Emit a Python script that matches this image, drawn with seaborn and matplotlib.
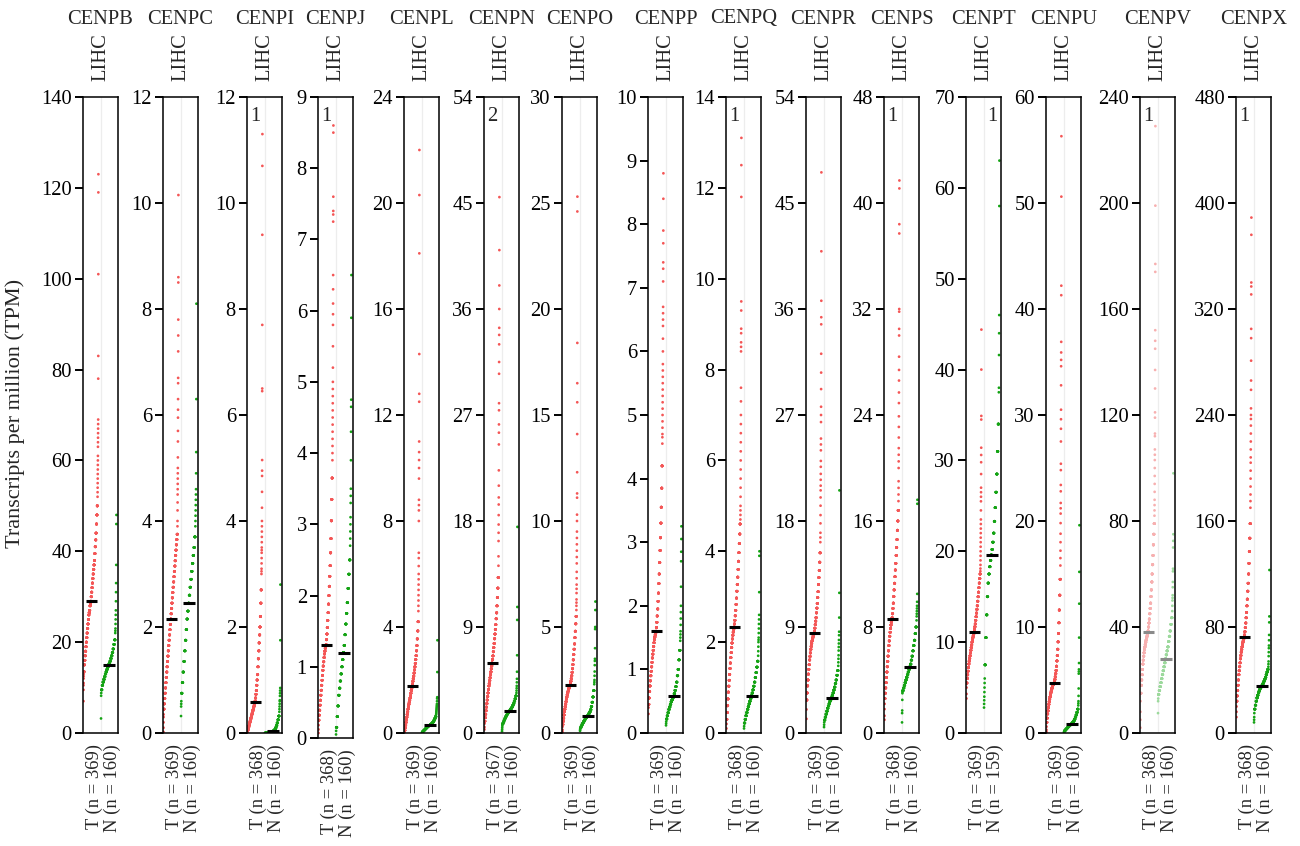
import numpy as np
import pandas as pd
import matplotlib
matplotlib.use("Agg")
import matplotlib.pyplot as plt
import seaborn as sns

# ---------------- data (TPM) ----------------
genes = ["CENPB", "CENPC", "CENPI", "CENPJ", "CENPL", "CENPN", "CENPO", "CENPP",
         "CENPQ", "CENPR", "CENPS", "CENPT", "CENPU", "CENPV", "CENPX"]
y_max = [140, 12, 12, 9, 24, 54, 30, 10, 14, 54, 48, 70, 60, 240, 480]
y_step = [20, 2, 2, 1, 4, 9, 5, 1, 2, 9, 8, 10, 10, 40, 80]
n_tumor = [369, 369, 368, 368, 369, 367, 369, 369, 368, 369, 368, 369, 369, 368, 368]
n_normal = [160, 160, 160, 160, 160, 160, 160, 160, 160, 160, 160, 159, 160, 160, 160]
out_tumor = ["", "", "1", "1", "", "2", "", "", "1", "", "1", "", "", "1", "1"]
out_normal = ["", "", "", "", "", "", "", "", "", "", "", "1", "", "", ""]
faded = ["CENPV"]

# core values: each stands for a run of sorted samples (10 for T, 8 for N);
# single values: individually visible dots
T_BLOCK = 10
N_BLOCK = 8

cenpb_t_core = [13.5, 15, 16, 17, 18, 19, 20, 21, 22, 23, 24, 25, 26, 26.5, 27, 28, 28.5, 29, 30, 31, 32, 33, 34, 35, 36, 37, 38, 39.5, 41, 42.5, 44, 46, 48, 50]
cenpb_t_single = [7, 9.5, 10.5, 11, 12, 12.5, 13, 52, 53, 54, 55, 56, 57, 58, 59, 60, 61, 63, 64, 65, 66, 67, 68, 69, 78, 83, 101, 119, 123]
cenpb_n_core = [9.5, 10.5, 11.2, 11.8, 12.4, 13, 13.5, 14, 14.5, 15, 15.3, 15.8, 16.4, 17, 17.7, 18.5, 19.5, 20.5]
cenpb_n_single = [3.2, 8.2, 8.8, 22, 22.5, 23, 24, 25, 26, 27, 29, 31, 33, 37, 46, 48]

cenpc_t_core = [0.45, 0.55, 0.65, 0.75, 0.85, 0.95, 1.05, 1.15, 1.25, 1.35, 1.45, 1.55, 1.65, 1.75, 1.85, 1.95, 2.05, 2.15, 2.25, 2.35, 2.45, 2.55, 2.65, 2.75, 2.85, 2.95, 3.05, 3.15, 3.25, 3.35, 3.45, 3.55, 3.65, 3.75]
cenpc_t_single = [0.02, 0.1, 0.2, 0.3, 0.35, 3.9, 4.0, 4.2, 4.35, 4.5, 4.6, 4.7, 4.8, 4.9, 5.0, 5.2, 5.5, 5.7, 5.95, 6.1, 6.3, 6.6, 6.7, 7.2, 7.5, 7.8, 8.5, 8.6, 10.15]
cenpc_n_core = [0.75, 0.95, 1.15, 1.35, 1.55, 1.75, 1.95, 2.15, 2.3, 2.45, 2.6, 2.75, 2.9, 3.05, 3.2, 3.35, 3.5, 3.7]
cenpc_n_single = [0.32, 0.5, 0.55, 0.6, 3.9, 4.0, 4.1, 4.2, 4.3, 4.4, 4.5, 4.6, 4.9, 5.3, 6.3, 8.1]

cenpi_t_core = [0.05, 0.08, 0.11, 0.14, 0.17, 0.2, 0.23, 0.26, 0.29, 0.32, 0.35, 0.38, 0.41, 0.44, 0.47, 0.5, 0.53, 0.56, 0.6, 0.66, 0.73, 0.8, 0.9, 1.0, 1.1, 1.25, 1.4, 1.55, 1.7, 1.85, 2.0, 2.2, 2.45, 2.7]
cenpi_t_single = [0, 0.01, 0.02, 0.03, 3.0, 3.05, 3.1, 3.2, 3.3, 3.4, 3.45, 3.5, 3.6, 3.7, 3.8, 3.9, 4.0, 4.25, 4.55, 4.85, 4.95, 5.15, 6.45, 6.5, 7.7, 9.4, 10.7, 11.3]
cenpi_n_core = [0, 0, 0.005, 0.01, 0.01, 0.015, 0.02, 0.02, 0.025, 0.03, 0.04, 0.05, 0.07, 0.1, 0.14, 0.19, 0.25, 0.32]
cenpi_n_single = [0, 0, 0, 0, 0.4, 0.45, 0.5, 0.55, 0.6, 0.62, 0.7, 0.75, 0.8, 0.85, 1.75, 2.8]

cenpj_t_core = [0.25, 0.32, 0.39, 0.46, 0.53, 0.6, 0.67, 0.74, 0.81, 0.88, 0.95, 1.01, 1.07, 1.13, 1.18, 1.22, 1.26, 1.29, 1.31, 1.38, 1.46, 1.55, 1.65, 1.76, 1.88, 2.0, 2.13, 2.27, 2.42, 2.6, 2.8, 3.05, 3.35, 3.65]
cenpj_t_single = [0.07, 0.12, 0.18, 3.9, 4.0, 4.1, 4.2, 4.3, 4.4, 4.5, 4.6, 4.7, 4.8, 4.9, 5.0, 5.2, 5.5, 5.8, 5.95, 6.1, 6.3, 6.5, 7.25, 7.35, 7.4, 7.6, 8.5, 8.6]
cenpj_n_core = [0.15, 0.3, 0.45, 0.6, 0.7, 0.8, 0.9, 1.0, 1.1, 1.2, 1.3, 1.45, 1.6, 1.75, 1.9, 2.1, 2.3, 2.5]
cenpj_n_single = [0.05, 0.1, 2.7, 2.8, 2.9, 3.0, 3.1, 3.3, 3.4, 3.5, 3.9, 4.3, 4.65, 4.75, 5.9, 6.5]

cenpl_t_core = [0.1, 0.2, 0.3, 0.4, 0.5, 0.6, 0.7, 0.8, 0.9, 1.0, 1.08, 1.16, 1.24, 1.32, 1.4, 1.5, 1.6, 1.68, 1.76, 1.85, 1.95, 2.05, 2.15, 2.26, 2.38, 2.5, 2.63, 2.77, 2.92, 3.1, 3.3, 3.55, 3.85, 4.2]
cenpl_t_single = [0, 0.02, 0.05, 4.6, 4.8, 5.0, 5.2, 5.4, 5.6, 5.8, 6.0, 6.3, 6.6, 6.8, 8.0, 8.4, 8.6, 8.8, 9.6, 10.0, 10.3, 10.6, 11.0, 12.5, 12.8, 14.3, 18.1, 20.3, 22.0]
cenpl_n_core = [0.04, 0.07, 0.1, 0.13, 0.16, 0.19, 0.22, 0.25, 0.27, 0.29, 0.31, 0.33, 0.36, 0.39, 0.43, 0.48, 0.55, 0.62]
cenpl_n_single = [0, 0.02, 0.7, 0.75, 0.8, 0.85, 0.9, 0.95, 1.0, 1.05, 1.1, 1.2, 1.3, 1.35, 2.3, 3.5]

cenpn_t_core = [1.0, 1.3, 1.6, 1.9, 2.2, 2.5, 2.8, 3.1, 3.4, 3.7, 4.0, 4.2, 4.45, 4.7, 4.95, 5.2, 5.45, 5.7, 5.95, 6.25, 6.55, 6.9, 7.25, 7.6, 8.0, 8.4, 8.8, 9.2, 9.7, 10.2, 10.8, 11.5, 12.3, 13.2]
cenpn_t_single = [0.3, 0.5, 0.8, 14.2, 15, 16.3, 17, 17.7, 18.5, 19.4, 20, 21, 22.3, 24.5, 25.5, 26.2, 27.4, 28, 30.5, 31.5, 33, 33.8, 34.4, 36, 38, 41, 45.5]
cenpn_n_core = [0.8, 0.95, 1.1, 1.25, 1.4, 1.52, 1.63, 1.73, 1.82, 1.9, 2.0, 2.1, 2.2, 2.35, 2.5, 2.7, 2.9, 3.15]
cenpn_n_single = [0.15, 0.3, 0.45, 0.6, 0.7, 3.4, 3.6, 3.8, 4.0, 4.3, 4.6, 5.2, 6.6, 9.6, 10.7, 17.5]

cenpo_t_core = [0.4, 0.55, 0.7, 0.85, 1.0, 1.12, 1.24, 1.36, 1.48, 1.6, 1.7, 1.8, 1.88, 1.96, 2.04, 2.1, 2.16, 2.2, 2.26, 2.34, 2.44, 2.56, 2.7, 2.86, 3.03, 3.23, 3.45, 3.7, 3.95, 4.2, 4.5, 4.8, 5.15, 5.5]
cenpo_t_single = [0.05, 0.15, 0.3, 5.8, 6.0, 6.15, 6.3, 6.6, 6.8, 7.0, 7.3, 7.6, 8.0, 8.3, 8.6, 8.9, 9.2, 9.5, 10.0, 10.3, 11.1, 11.3, 12.3, 14.1, 15.6, 16.5, 18.4, 24.6, 25.3]
cenpo_n_core = [0.25, 0.32, 0.4, 0.47, 0.54, 0.6, 0.66, 0.71, 0.76, 0.81, 0.86, 0.93, 1.0, 1.1, 1.25, 1.45, 1.7, 2.0]
cenpo_n_single = [0.1, 0.15, 0.2, 2.3, 2.4, 2.5, 2.7, 2.9, 3.2, 3.4, 3.5, 4.0, 4.9, 5.0, 5.8, 6.2]

cenpp_t_core = [0.45, 0.55, 0.65, 0.74, 0.82, 0.9, 0.97, 1.04, 1.11, 1.18, 1.24, 1.3, 1.36, 1.42, 1.47, 1.51, 1.54, 1.57, 1.6, 1.66, 1.74, 1.84, 1.95, 2.07, 2.2, 2.35, 2.5, 2.68, 2.87, 3.07, 3.3, 3.55, 3.85, 4.2]
cenpp_t_single = [0.3, 0.4, 4.55, 4.65, 4.7, 4.8, 4.9, 5.0, 5.1, 5.2, 5.3, 5.4, 5.5, 5.6, 5.7, 5.8, 6.0, 6.2, 6.4, 6.5, 6.6, 6.7, 7.1, 7.3, 7.4, 7.7, 7.9, 8.4, 8.8]
cenpp_n_core = [0.22, 0.27, 0.32, 0.37, 0.41, 0.45, 0.49, 0.52, 0.55, 0.58, 0.62, 0.67, 0.73, 0.8, 0.9, 1.0, 1.15, 1.3]
cenpp_n_single = [0.12, 0.15, 0.18, 1.45, 1.5, 1.55, 1.6, 1.7, 1.8, 1.9, 2.0, 2.3, 2.7, 2.85, 3.05, 3.25]

cenpq_t_core = [0.3, 0.45, 0.6, 0.75, 0.9, 1.03, 1.16, 1.29, 1.42, 1.54, 1.66, 1.77, 1.88, 1.98, 2.07, 2.15, 2.22, 2.28, 2.33, 2.4, 2.48, 2.58, 2.7, 2.83, 2.97, 3.12, 3.27, 3.43, 3.6, 3.78, 3.97, 4.17, 4.38, 4.6]
cenpq_t_single = [0.1, 0.2, 4.7, 4.8, 4.9, 5.0, 5.2, 5.4, 5.6, 5.8, 6.0, 6.2, 6.4, 6.6, 6.8, 7.0, 7.3, 7.6, 8.4, 8.5, 8.6, 8.8, 8.9, 9.3, 9.5, 11.8, 12.5, 13.1]
cenpq_n_core = [0.22, 0.3, 0.38, 0.45, 0.52, 0.58, 0.64, 0.7, 0.76, 0.82, 0.88, 0.95, 1.03, 1.12, 1.22, 1.33, 1.45, 1.58]
cenpq_n_single = [0.1, 0.15, 1.7, 1.8, 1.9, 2.0, 2.05, 2.1, 2.2, 2.3, 2.4, 2.5, 2.6, 3.1, 3.9, 4.0]

cenpr_t_core = [2.8, 3.4, 4.0, 4.5, 5.0, 5.4, 5.8, 6.2, 6.5, 6.8, 7.1, 7.35, 7.6, 7.8, 7.95, 8.1, 8.25, 8.35, 8.45, 8.65, 8.9, 9.2, 9.5, 9.8, 10.2, 10.6, 11.0, 11.5, 12.0, 12.6, 13.2, 13.8, 14.5, 15.3]
cenpr_t_single = [1.2, 2.0, 16.2, 16.6, 17.0, 17.8, 18.5, 19.3, 20.0, 20.6, 21.0, 21.5, 22.0, 22.6, 23.1, 24.0, 24.5, 25.0, 26.4, 27.0, 27.7, 29.2, 30.6, 32.2, 34.7, 35.3, 36.7, 40.9, 47.6]
cenpr_n_core = [1.1, 1.35, 1.6, 1.85, 2.1, 2.3, 2.5, 2.7, 2.85, 3.0, 3.2, 3.4, 3.65, 3.9, 4.2, 4.5, 4.9, 5.3]
cenpr_n_single = [0.5, 0.7, 0.9, 5.7, 6.0, 6.3, 6.6, 7.0, 7.3, 7.6, 7.9, 8.3, 8.6, 9.8, 11.9, 20.6]

cenps_t_core = [2.6, 3.0, 3.4, 3.8, 4.2, 4.6, 5.0, 5.4, 5.8, 6.2, 6.6, 6.95, 7.3, 7.6, 7.9, 8.15, 8.35, 8.5, 8.7, 9.0, 9.4, 9.8, 10.3, 10.8, 11.3, 11.8, 12.3, 12.8, 13.4, 14.0, 14.6, 15.3, 16.0, 16.8]
cenps_t_single = [1.0, 1.3, 1.8, 2.2, 17.5, 18.0, 18.5, 19.0, 20.0, 20.5, 21.0, 21.5, 22.3, 23.1, 23.9, 24.9, 25.7, 26.6, 27.4, 28.4, 30.0, 30.5, 31.8, 32.0, 37.7, 38.4, 41.1, 41.7]
cenps_n_core = [3.2, 3.4, 3.6, 3.8, 4.0, 4.2, 4.4, 4.6, 4.8, 5.0, 5.2, 5.5, 5.8, 6.2, 6.6, 7.0, 7.5, 8.0]
cenps_n_single = [0.8, 1.5, 1.7, 2.5, 3.0, 3.1, 8.5, 8.8, 9.0, 9.2, 9.4, 9.6, 9.9, 10.5, 17.3, 17.6]

cenpt_t_core = [5.5, 6.0, 6.4, 6.8, 7.2, 7.6, 7.9, 8.2, 8.5, 8.8, 9.1, 9.4, 9.7, 10.0, 10.25, 10.5, 10.7, 10.9, 11.1, 11.4, 11.7, 12.0, 12.4, 12.8, 13.2, 13.6, 14.0, 14.5, 15.0, 15.5, 16.0, 16.5, 17.0, 17.5]
cenpt_t_single = [3.8, 4.3, 5.0, 17.8, 18.1, 18.5, 19.0, 19.5, 20.0, 20.5, 21.0, 21.5, 22.0, 22.5, 23.0, 23.5, 24.5, 25.5, 26.0, 26.5, 27.0, 28.5, 29.8, 30.6, 31.4, 34.5, 34.9, 40.0, 44.4]
cenpt_n_core = [7.5, 10.5, 13.0, 15.0, 16.5, 17.5, 18.3, 19.0, 19.6, 20.2, 21.0, 22.0, 23.3, 24.8, 26.5, 28.5, 31.0, 34.0]
cenpt_n_single = [2.8, 3.2, 3.6, 4.0, 4.5, 5.0, 5.5, 6.0, 37.5, 38.0, 41.6, 44.0, 46.0, 58.0, 63.0]

cenpu_t_core = [1.0, 1.4, 1.8, 2.1, 2.4, 2.7, 2.95, 3.2, 3.4, 3.6, 3.8, 3.95, 4.1, 4.25, 4.4, 4.5, 4.58, 4.65, 4.72, 4.85, 5.05, 5.3, 5.6, 5.9, 6.3, 6.8, 7.3, 7.9, 8.6, 9.4, 10.4, 11.6, 13.0, 14.5]
cenpu_t_single = [0.1, 0.3, 0.6, 15.8, 16.5, 17.2, 18.0, 18.8, 19.8, 20.7, 21.2, 21.7, 22.8, 23.4, 24.8, 25.4, 27.5, 28.7, 29.6, 30.5, 32.8, 34.6, 35.2, 35.9, 36.9, 41.3, 42.2, 50.6, 56.3]
cenpu_n_core = [0.2, 0.28, 0.36, 0.44, 0.52, 0.6, 0.67, 0.74, 0.8, 0.87, 0.95, 1.05, 1.15, 1.3, 1.5, 1.7, 1.95, 2.25]
cenpu_n_single = [0.05, 0.1, 0.15, 2.6, 2.8, 3.0, 3.5, 4.2, 5.6, 5.8, 6.0, 6.6, 9.0, 12.2, 15.2, 19.6]

cenpv_t_core = [15, 18, 20, 22, 24, 26, 27.5, 29, 30.3, 31.5, 32.5, 33.4, 34.2, 35.0, 35.7, 36.4, 37.0, 37.6, 38.5, 40, 41.5, 43, 45, 47, 49, 51.5, 54, 57, 60, 63.5, 67, 71, 75, 79]
cenpv_t_single = [2, 5, 8, 12, 82, 84, 86, 88, 91, 94, 97, 100, 103, 105, 107, 112, 113, 119, 121, 130, 137, 145, 148, 152, 174, 177, 199, 229]
cenpv_n_core = [14.5, 16, 17.5, 19, 20.5, 22, 23.5, 25, 26.5, 28, 29.5, 31, 32.5, 34.5, 36.5, 38.5, 41, 43.5]
cenpv_n_single = [7.5, 12, 13, 46, 48, 50, 51, 52, 55, 57, 61, 62, 70, 72.5, 75, 98]

cenpx_t_core = [24, 28, 32, 36, 40, 44, 47, 50, 53, 56, 58.5, 61, 63, 65, 66.8, 68.4, 69.8, 71, 72.3, 74, 76.5, 79.5, 83, 87, 91, 96, 101, 107, 113, 120, 128, 137, 147, 158]
cenpx_t_single = [12, 16, 20, 170, 175, 180, 186, 192, 198, 204, 208, 214, 220, 226, 232, 237, 240, 245, 259, 266, 281, 298, 305, 331, 337, 340, 376, 389]
cenpx_n_core = [18, 21, 24, 26.5, 28.5, 30.5, 32, 33.5, 34.5, 35.5, 36.5, 37.5, 39, 40.5, 42, 44, 46, 48]
cenpx_n_single = [8, 10, 12, 15, 50, 52, 54, 58, 61, 64, 66, 70, 74, 83.5, 88, 123]

t_cores = [cenpb_t_core, cenpc_t_core, cenpi_t_core, cenpj_t_core, cenpl_t_core, cenpn_t_core, cenpo_t_core,
           cenpp_t_core, cenpq_t_core, cenpr_t_core, cenps_t_core, cenpt_t_core, cenpu_t_core, cenpv_t_core, cenpx_t_core]
t_singles = [cenpb_t_single, cenpc_t_single, cenpi_t_single, cenpj_t_single, cenpl_t_single, cenpn_t_single, cenpo_t_single,
             cenpp_t_single, cenpq_t_single, cenpr_t_single, cenps_t_single, cenpt_t_single, cenpu_t_single, cenpv_t_single, cenpx_t_single]
n_cores = [cenpb_n_core, cenpc_n_core, cenpi_n_core, cenpj_n_core, cenpl_n_core, cenpn_n_core, cenpo_n_core,
           cenpp_n_core, cenpq_n_core, cenpr_n_core, cenps_n_core, cenpt_n_core, cenpu_n_core, cenpv_n_core, cenpx_n_core]
n_singles = [cenpb_n_single, cenpc_n_single, cenpi_n_single, cenpj_n_single, cenpl_n_single, cenpn_n_single, cenpo_n_single,
             cenpp_n_single, cenpq_n_single, cenpr_n_single, cenps_n_single, cenpt_n_single, cenpu_n_single, cenpv_n_single, cenpx_n_single]

# ---------------- layout (pixels of a 1300x846 canvas) ----------------
W, H = 1300, 846
box_left = [83, 163, 247, 318, 404, 484, 562, 648, 726, 806, 884, 966, 1046, 1140, 1236]
box_w = 35
box_top = 97
box_bottom = [733, 733, 733, 738, 733, 733, 733, 733, 733, 733, 733, 733, 733, 733, 733]

RED, GREEN = "#F45656", "#14A314"
RED_F, GREEN_F, GREY_F = "#F7B0B0", "#9CD99C", "#8A8A8A"

sns.set_style("ticks")
plt.rcParams["font.family"] = ["Liberation Serif", "DejaVu Serif"]
plt.rcParams["axes.linewidth"] = 1.1

fig = plt.figure(figsize=(W / 100, H / 100), dpi=100)
FS = 14.8
FS_N = 13.4


def group_frame(core, single, block, x0, span, label):
    vals = np.sort(np.concatenate([np.repeat(np.asarray(core, float), block),
                                   np.asarray(single, float)]))
    n = len(vals)
    pos = x0 + span * np.arange(n) / max(n - 1, 1)
    return pd.DataFrame({"pos": pos, "tpm": vals, "grp": label})


for i, g in enumerate(genes):
    L = box_left[i]
    bt = box_bottom[i]
    ax = fig.add_axes([L / W, 1 - bt / H, box_w / W, (bt - box_top) / H])
    dT = group_frame(t_cores[i], t_singles[i], T_BLOCK, 0.03, 0.85, "T")
    dN = group_frame(n_cores[i], n_singles[i], N_BLOCK, 1.03, 0.88, "N")
    df = pd.concat([dT, dN], ignore_index=True)
    fade = g in faded
    pal = {"T": RED_F if fade else RED, "N": GREEN_F if fade else GREEN}
    ax.axvline(1.0, color="#EDEDED", lw=0.9, zorder=0)
    sns.scatterplot(data=df, x="pos", y="tpm", hue="grp", palette=pal, s=3.8,
                    linewidth=0, legend=False, ax=ax, zorder=2)
    mcol = GREY_F if fade else "black"
    ax.hlines(np.median(dT["tpm"]), 0.16, 0.80, color=mcol, lw=2.2, zorder=3)
    ax.hlines(np.median(dN["tpm"]), 1.16, 1.82, color=mcol, lw=2.2, zorder=3)

    ax.set_xlim(0, 2)
    ax.set_ylim(0, y_max[i])
    ticks = np.arange(0, y_max[i] + y_step[i] / 2, y_step[i])
    ax.set_yticks(ticks)
    ax.set_yticklabels([f"{t:g}" for t in ticks], fontsize=FS)
    ax.tick_params(axis="y", length=6, width=1.4, direction="out", pad=2, colors="black")
    ax.set_xticks([0.62, 1.7])
    ax.set_xticklabels([f"T (n = {n_tumor[i]})", f"N (n = {n_normal[i]})"],
                       rotation=90, fontsize=FS_N)
    ax.tick_params(axis="x", length=0, pad=8)
    ax.set_xlabel("")
    ax.set_ylabel("")
    for sp in ax.spines.values():
        sp.set_visible(True)
        sp.set_color("black")

    if out_tumor[i]:
        ax.text(0.08, 0.985, out_tumor[i], transform=ax.transAxes, ha="left",
                va="top", fontsize=FS)
    if out_normal[i]:
        ax.text(0.62, 0.985, out_normal[i], transform=ax.transAxes, ha="left",
                va="top", fontsize=FS)

    xc = (L + box_w / 2) / W
    fig.text(xc, 1 - 19 / H, g, ha="center", va="center", fontsize=FS)
    fig.text(xc, 1 - 81 / H, "LIHC", ha="center", va="bottom", rotation=90, fontsize=FS)

fig.text(15 / W, 1 - 413 / H, "Transcripts per million (TPM)", rotation=90,
         ha="center", va="center", fontsize=16)

fig.savefig("out.png", dpi=100)
